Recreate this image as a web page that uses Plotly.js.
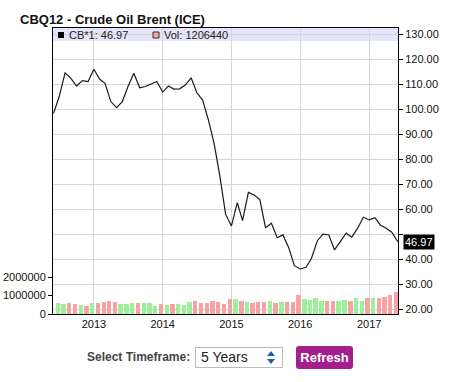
<!DOCTYPE html>
<html>
<head>
<meta charset="utf-8">
<script src="https://cdn.plot.ly/plotly-3.0.1.min.js"></script>
<style>
  html, body { margin:0; padding:0; background:#fff; }
  #wrap { position:relative; width:476px; height:382px; font-family: Arial, 'Liberation Sans', sans-serif; }
  #chart { position:absolute; left:0; top:0; width:476px; height:382px; }
  .ctl { position:absolute; box-sizing:border-box; }
  #lbl { left:87px; top:349px; font-size:12px; font-weight:bold; color:#444; line-height:16px; }
  #sel { left:195px; top:347px; width:88px; height:21px; border:1px solid #bbb; background:#fff; font-size:14px; color:#222; line-height:19px; padding-left:5px; }
  #arr { position:absolute; right:7px; top:3px; width:8px; }
  #btn { left:296px; top:346px; width:57px; height:23px; background:#a3208c; color:#fff; font-weight:bold; font-size:13px; line-height:23px; text-align:center; border-radius:3px; }
</style>
</head>
<body>
<div id="wrap">
  <div id="chart"></div>
  <div class="ctl" id="lbl">Select Timeframe:</div>
  <div class="ctl" id="sel">5 Years
    <svg id="arr" width="8" height="14" viewBox="0 0 8 14"><polygon points="4,0 8,5 0,5" fill="#1f5fa8"/><polygon points="0,8 8,8 4,13" fill="#1f5fa8"/></svg>
  </div>
  <div class="ctl" id="btn">Refresh</div>
</div>
<script>
// Monthly closes, Jun 2012 .. Jun 2017
const startYear = 2012, startMonth = 6;
const prices = [
  98.3, 105.0, 114.5, 112.3, 109.2, 111.4, 111.0,
  115.9, 111.9, 110.3, 103.0, 100.6, 103.0, 109.0, 114.3, 108.5, 109.0, 109.9, 111.0,
  106.8, 109.2, 108.0, 108.1, 109.6, 112.5, 106.6, 103.6, 95.6, 86.3, 73.0, 58.0,
  53.3, 62.6, 55.4, 66.7, 65.7, 63.7, 52.6, 54.4, 48.6, 49.7, 44.6, 37.4,
  36.1, 36.8, 40.4, 47.4, 50.0, 49.7, 43.7, 47.0, 50.4, 48.8, 52.4, 56.8,
  55.7, 56.6, 53.7, 52.4, 50.8, 46.97
];
// Monthly volume, Jun 2012 .. May 2017
const volumes = [
  590000, 560000, 610000, 560000, 500000, 450000, 610000, 610000, 670000, 720000,
  630000, 560000, 560000, 610000, 610000, 610000, 610000, 450000, 560000, 500000,
  560000, 560000, 500000, 670000, 720000, 610000, 610000, 720000, 670000, 560000,
  830000, 830000, 720000, 670000, 610000, 670000, 670000, 720000, 610000, 670000,
  670000, 670000, 1050000, 830000, 780000, 890000, 720000, 720000, 720000, 720000,
  780000, 720000, 890000, 720000, 890000, 890000, 890000, 940000, 1050000, 1206440
];
const yearTicks = ['2013', '2014', '2015', '2016', '2017'];
const priceTicks = [20, 30, 40, 50, 60, 70, 80, 90, 100, 110, 120, 130];
const volTicks = [0, 1000000, 2000000];
const priceLabel = 'CB*1: 46.97';
const volLabel = 'Vol: 1206440';
const lastPrice = 46.97;

function pad(n){ return (n < 10 ? '0' : '') + n; }
const priceDates = prices.map((_, i) => {
  const m = startMonth - 1 + i;
  return (startYear + Math.floor(m / 12)) + '-' + pad(m % 12 + 1) + '-01';
});
priceDates[priceDates.length - 1] = '2017-06-02';
const volDates = volumes.map((_, i) => {
  const m = startMonth - 1 + i;
  return (startYear + Math.floor(m / 12)) + '-' + pad(m % 12 + 1) + '-23';
});
const volColors = volumes.map((_, i) => prices[i + 1] >= prices[i] ? '#9df09a' : '#f5a3a3');

const DAY = 86400000;
const traces = [
  { type:'bar', x: volDates, y: volumes, yaxis:'y', marker:{ color: volColors, line:{width:0} },
    width: 23 * DAY, hoverinfo:'skip', showlegend:false },
  { type:'scatter', mode:'lines', x: priceDates, y: prices, yaxis:'y2',
    line:{ color:'#1a1a1a', width:1.2 }, showlegend:false }
];

const font = { family:"Arial, 'Liberation Sans', sans-serif", size:11, color:'#111' };
const px = x => (x - 53) / 345;
const py = y => (314 - y) / 286;

const layout = {
  width:476, height:382,
  margin:{ l:53, r:78, t:28, b:68, pad:0 },
  paper_bgcolor:'#fff', plot_bgcolor:'#fff',
  font: font,
  showlegend:false,
  bargap:0,
  title:{ text:'<b>CBQ12 - Crude Oil Brent (ICE)</b>', x:20/476, xanchor:'left', y:1 - 19/382, yanchor:'middle',
          font:{ family:"Arial, 'Liberation Sans', sans-serif", size:13, color:'#111' } },
  xaxis:{ type:'date', range:['2012-05-29', '2017-06-03'],
          tickvals: yearTicks.map(y => y + '-01-01'), ticktext: yearTicks,
          showgrid:true, gridcolor:'#d6d6d6', gridwidth:1,
          showline:true, linecolor:'#000', linewidth:1, mirror:true,
          ticks:'', zeroline:false, tickfont: font, fixedrange:true },
  yaxis:{ range:[0, 15.46e6], tickvals: volTicks, ticktext: volTicks.map(v => String(v)),
          showgrid:false, zeroline:false, showline:true, linecolor:'#000', linewidth:1,
          ticks:'outside', ticklen:4, tickcolor:'#000', tickfont: font, fixedrange:true },
  yaxis2:{ overlaying:'y', side:'right', range:[18.1, 132.4],
           tickvals: priceTicks,
           ticktext: priceTicks.map(v => Math.abs(v - lastPrice) < 5 ? '' : v.toFixed(2)),
           showgrid:true, gridcolor:'#d6d6d6', gridwidth:1, zeroline:false,
           showline:true, linecolor:'#000', linewidth:1,
           ticks:'outside', ticklen:4, tickcolor:'#000', tickfont: font, fixedrange:true },
  shapes:[
    { type:'rect', xref:'paper', yref:'paper', x0:0, x1:1, y0:py(41), y1:1,
      fillcolor:'#e4e4fa', line:{width:0}, layer:'below' },
    { type:'rect', xref:'paper', yref:'paper', x0:px(58), x1:px(64), y0:py(38), y1:py(32),
      fillcolor:'#000', line:{width:0} },
    { type:'rect', xref:'paper', yref:'paper', x0:px(153), x1:px(159), y0:py(38), y1:py(32),
      fillcolor:'#f5a3a3', line:{width:1, color:'#333'} }
  ],
  annotations:[
    { xref:'paper', yref:'paper', x:px(67), y:py(35), xanchor:'left', yanchor:'middle',
      text: priceLabel, showarrow:false, font:{ family:font.family, size:11, color:'#222' } },
    { xref:'paper', yref:'paper', x:px(162), y:py(35), xanchor:'left', yanchor:'middle',
      text: volLabel, showarrow:false, font:{ family:font.family, size:11, color:'#222' } },
    { xref:'paper', yref:'y2', x:1, y:lastPrice, xanchor:'left', yanchor:'middle', xshift:5,
      text: lastPrice.toFixed(2), showarrow:false, bgcolor:'#000', borderpad:1,
      font:{ family:font.family, size:11, color:'#fff' } }
  ]
};

Plotly.newPlot('chart', traces, layout, { displayModeBar:false, staticPlot:true });
</script>
</body>
</html>
